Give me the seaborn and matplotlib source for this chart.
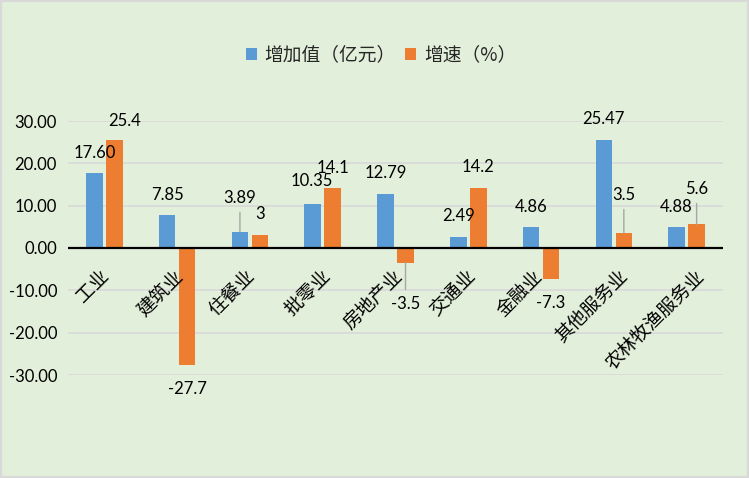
import matplotlib
matplotlib.use("Agg")
import matplotlib.pyplot as plt
import seaborn as sns
import pandas as pd
from matplotlib.patches import Rectangle
from matplotlib.font_manager import FontProperties

# ---------------- data ----------------
categories = ["工业", "建筑业", "住餐业", "批零业", "房地产业", "交通业", "金融业", "其他服务业", "农林牧渔服务业"]
added_value = [17.60, 7.85, 3.89, 10.35, 12.79, 2.49, 4.86, 25.47, 4.88]
growth_rate = [25.4, -27.7, 3, 14.1, -3.5, 14.2, -7.3, 3.5, 5.6]
series_names = ["增加值（亿元）", "增速（%）"]
y_ticks = [30, 20, 10, 0, -10, -20, -30]

# ---------------- label placement (pixels, relative to bar end) ----------------
blue_label_dx = [0, 0, 0, -1, 0, 0, 0, 0, 0]
blue_label_dy = [20.5, 20, 33.5, 23, 21, 21.5, 20.5, 21, 20]
orange_label_dx = [10, 0, 0, 0, 0, 0, 0, 0, 0]
orange_label_dy = [19.5, -23.7, 21, 20, -41, 21, -24, 38, 35]
blue_leader = [False, False, True, False, False, False, False, False, False]
orange_leader = [False, False, False, False, True, False, False, True, True]
cat_label_dx = [-5.5, -4.25, -5, -2.75, -3.5, -3, -9.5, 3, 6.5]

# ---------------- style ----------------
DPI = 100
BLUE = "#5B9BD5"
ORANGE = "#ED7D31"
BG = "#E2EFDA"
GRID = "#D9D9D9"
NUM_FONT = ["Lato", "Noto Sans CJK SC"]
CJK_FONT = ["Noto Sans CJK SC", "DejaVu Sans"]

sns.set_style("white")
plt.rcParams["font.family"] = NUM_FONT


def px2pt(v):
    return v * 72.0 / DPI


df = pd.DataFrame({
    "category": categories * 2,
    "series": [series_names[0]] * len(categories) + [series_names[1]] * len(categories),
    "value": added_value + growth_rate,
})

fig = plt.figure(figsize=(7.49, 4.78), dpi=DPI)
fig.patch.set_facecolor(BG)
ax = fig.add_axes([68 / 749, 103 / 478, (723 - 68) / 749, (375 - 121) / 478])
ax.set_facecolor(BG)

sns.barplot(data=df, x="category", y="value", hue="series", order=categories,
            hue_order=series_names, palette=[BLUE, ORANGE], width=0.55, gap=0.175,
            saturation=1, errorbar=None, linewidth=0, ax=ax, zorder=2)

handles, labels = ax.get_legend_handles_labels()
if ax.get_legend() is not None:
    ax.get_legend().remove()

ax.set_xlim(-0.5, len(categories) - 0.5)
ax.set_ylim(-30, 30)
ax.set_yticks(y_ticks)
ax.set_yticklabels([f"{t:.2f}" for t in y_ticks], fontsize=12, family=NUM_FONT, color="black")
ax.set_xticks(range(len(categories)))
ax.set_xticklabels([""] * len(categories))
ax.tick_params(axis="both", length=0)
ax.tick_params(axis="y", pad=px2pt(11))
ax.set_xlabel("")
ax.set_ylabel("")
for s in ax.spines.values():
    s.set_visible(False)
ax.yaxis.grid(True, color=GRID, linewidth=1.2)
ax.set_axisbelow(True)
ax.axhline(0, color="black", linewidth=1.6, zorder=4)

# data labels
series_cfg = [
    (ax.containers[0], added_value, blue_label_dx, blue_label_dy, blue_leader, lambda v: f"{v:.2f}"),
    (ax.containers[1], growth_rate, orange_label_dx, orange_label_dy, orange_leader, lambda v: f"{v:g}"),
]
for cont, vals, ldx, ldy, lead, fmt in series_cfg:
    for patch, v, dx, dy, ld in zip(cont.patches, vals, ldx, ldy, lead):
        xc = patch.get_x() + patch.get_width() / 2
        yend = patch.get_y() + patch.get_height()
        kw = {}
        if ld:
            kw["arrowprops"] = dict(arrowstyle="-", color="#A6A6A6", lw=1.0,
                                    shrinkA=px2pt(3), shrinkB=0)
        ax.annotate(fmt(v), xy=(xc, yend), xytext=(px2pt(dx), px2pt(dy)),
                    textcoords="offset points", ha="center", va="center",
                    fontsize=12, family=NUM_FONT, color="black",
                    annotation_clip=False, zorder=5, **kw)

# category labels (rotated, hanging under the zero line)
for i, (cat, dx) in enumerate(zip(categories, cat_label_dx)):
    ax.annotate(cat, xy=(i, 0), xytext=(px2pt(dx + 1 + 6.7), px2pt(-25.3)),
                textcoords="offset points", rotation=45, rotation_mode="anchor",
                ha="right", va="center", fontsize=13.5, family=CJK_FONT,
                color="black", annotation_clip=False, zorder=5)

# legend
fig.legend(handles, labels, loc="center", bbox_to_anchor=(381 / 749, 1 - 55 / 478),
           ncol=2, frameon=False, prop=FontProperties(family=CJK_FONT, size=13.5),
           handlelength=0.6, handleheight=0.6, handletextpad=0.4, columnspacing=0.5,
           borderaxespad=0, borderpad=0)

# figure border
fig.patches.append(Rectangle((0, 0), 1, 1, transform=fig.transFigure, fill=False,
                             edgecolor=GRID, linewidth=3, zorder=10))

fig.savefig("out.png", dpi=DPI, facecolor=BG)
